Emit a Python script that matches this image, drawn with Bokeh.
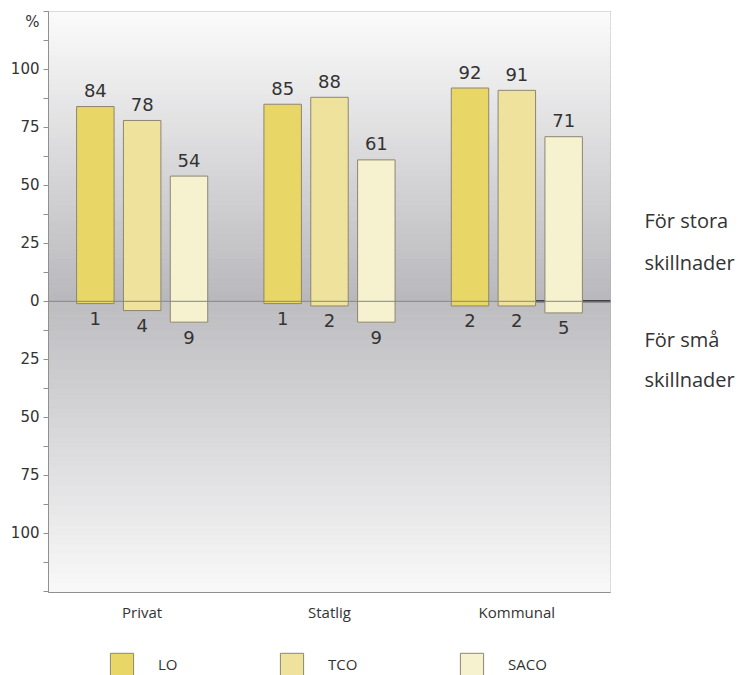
import numpy as np
from bokeh.plotting import figure
from bokeh.models import (FactorRange, Range1d, FixedTicker, Legend,
                          LegendItem, ColumnDataSource, Span)
from bokeh.layouts import column, row
from bokeh.transform import dodge
from bokeh.core.properties import value
from bokeh.embed import file_html
from bokeh.resources import INLINE

# ---- data ----
categories = ["Privat", "Statlig", "Kommunal"]
series = ["LO", "TCO", "SACO"]
lo_stora = [84, 85, 92]
tco_stora = [78, 88, 91]
saco_stora = [54, 61, 71]
lo_sma = [1, 1, 2]
tco_sma = [4, 2, 2]
saco_sma = [9, 9, 5]
tick_values = [-100, -75, -50, -25, 0, 25, 50, 75, 100, 120.5]
tick_labels = ["100", "75", "50", "25", "0", "25", "50", "75", "100", "%"]
side_labels = ["För stora", "skillnader", "För små", "skillnader"]
side_label_y = [34.9, 16.8, -16.5, -33.7]
legend_x = [107, 277, 457]

colors = ["#e8d767", "#efe29c", "#f6f1cf"]
outline = "#8c8672"
text_color = "#333333"

yr = Range1d(-125.6, 125)

p = figure(width=620, height=640, x_range=FactorRange(*categories, range_padding=0, factor_padding=0),
           y_range=yr, output_backend="svg", toolbar_location=None,
           min_border_left=48, min_border_right=10, min_border_top=11, min_border_bottom=48)
p.background_fill_color = None
p.border_fill_color = "white"
p.outline_line_color = "#a8a8a8"
p.xgrid.visible = False
p.ygrid.visible = False

# background gradient (styling)
n = 60
top_edges = np.linspace(0, 125, n + 1)
bot_edges = np.linspace(-125.6, 0, n + 1)
def mix(c1, c2, t):
    return "#%02x%02x%02x" % tuple(int(round(a + (b - a) * t)) for a, b in zip(c1, c2))
bq_bottom, bq_top, bq_color = [], [], []
for i in range(n):
    t = (i + 0.5) / n
    bq_bottom.append(top_edges[i]); bq_top.append(top_edges[i + 1])
    bq_color.append(mix((0xb8, 0xb8, 0xbc), (0xfb, 0xfb, 0xfb), t))
    bq_bottom.append(bot_edges[i]); bq_top.append(bot_edges[i + 1])
    bq_color.append(mix((0xf9, 0xf9, 0xf9), (0xbd, 0xbd, 0xc1), t))
p.quad(left=0, right=3, bottom=bq_bottom, top=bq_top, fill_color=bq_color, line_color=bq_color, line_width=1)

# black zero segment at right
p.segment(x0=[2.6], y0=[0], x1=[3.0], y1=[0], line_color="#000000", line_width=2)

src = ColumnDataSource(dict(
    cat=categories,
    LO_top=lo_stora, TCO_top=tco_stora, SACO_top=saco_stora,
    LO_bot=[-v for v in lo_sma], TCO_bot=[-v for v in tco_sma], SACO_bot=[-v for v in saco_sma],
    LO_t=[str(v) for v in lo_stora], TCO_t=[str(v) for v in tco_stora], SACO_t=[str(v) for v in saco_stora],
    LO_b=[str(v) for v in lo_sma], TCO_b=[str(v) for v in tco_sma], SACO_b=[str(v) for v in saco_sma],
))

offsets = [-0.25, 0.0, 0.25]
for s, off, col in zip(series, offsets, colors):
    p.vbar(x=dodge("cat", off, range=p.x_range), top=s + "_top", bottom=s + "_bot", width=0.2,
           source=src, fill_color=col, line_color=outline, line_width=1)
    p.text(x=dodge("cat", off, range=p.x_range), y=s + "_top", text=s + "_t", source=src,
           text_align="center", text_baseline="alphabetic", y_offset=-16,
           text_font=value("DejaVu Sans"), text_font_size="18px", text_color=text_color)
    p.text(x=dodge("cat", off, range=p.x_range), y=s + "_bot", text=s + "_b", source=src,
           text_align="center", text_baseline="alphabetic", y_offset=15,
           text_font=value("DejaVu Sans"), text_font_size="18px", text_color=text_color)

p.add_layout(Span(location=0, dimension="width", line_color="#858589", line_width=1))

# axes
ya = p.yaxis[0]
ya.ticker = FixedTicker(ticks=tick_values,
                        minor_ticks=[-125, -112.5, -100, -87.5, -75, -62.5, -50, -37.5, -25, -12.5, 0,
                                     12.5, 25, 37.5, 50, 62.5, 75, 87.5, 100, 112.5, 125])
ya.major_label_overrides = {v: l for v, l in zip(tick_values, tick_labels)}
ya.axis_line_color = "#909090"
ya.major_tick_line_color = None
ya.minor_tick_line_color = "#909090"
ya.major_tick_out = 6
ya.major_tick_in = 0
ya.minor_tick_out = 5
ya.minor_tick_in = 0
ya.major_label_standoff = 3
ya.major_label_text_font = "DejaVu Sans"
ya.major_label_text_font_size = "15px"
ya.major_label_text_color = text_color

xa = p.xaxis[0]
xa.axis_line_color = "#909090"
xa.major_tick_line_color = None
xa.minor_tick_line_color = None
xa.major_tick_out = 0
xa.major_label_standoff = 9
xa.major_label_text_font = "Open Sans"
xa.major_label_text_font_size = "15px"
xa.major_label_text_color = text_color

# right-hand texts
pr = figure(width=118, height=640, x_range=Range1d(0, 118), y_range=yr, output_backend="svg",
            toolbar_location=None, x_axis_type=None, y_axis_type=None,
            min_border_left=0, min_border_right=0, min_border_top=11, min_border_bottom=48)
pr.outline_line_color = None
pr.xgrid.visible = False
pr.ygrid.visible = False
pr.text(x=[24] * len(side_labels), y=side_label_y, text=side_labels, text_align="left",
        text_baseline="alphabetic", text_font=value("Open Sans"), text_font_size="20px",
        text_color=text_color)

# legend strip
pl = figure(width=738, height=35, x_range=Range1d(0, 738), y_range=Range1d(0, 35), output_backend="svg",
            toolbar_location=None, x_axis_type=None, y_axis_type=None,
            min_border_left=0, min_border_right=0, min_border_top=0, min_border_bottom=0)
pl.outline_line_color = None
pl.xgrid.visible = False
pl.ygrid.visible = False
for s, c, lx in zip(series, colors, legend_x):
    r = pl.vbar(x=[-100], top=[-100], bottom=[-101], width=1, fill_color=c, line_color=outline)
    lg = Legend(items=[LegendItem(label=s, renderers=[r])],
                orientation="horizontal", location=(lx, -3), padding=0, margin=0, spacing=0,
                glyph_width=29, glyph_height=28, label_standoff=22,
                label_text_font="Open Sans", label_text_font_size="15px", label_text_color=text_color,
                border_line_color=None, background_fill_alpha=0)
    pl.add_layout(lg, "center")

layout = column(row(p, pr), pl)
open("out.html", "w").write(file_html(layout, INLINE))
